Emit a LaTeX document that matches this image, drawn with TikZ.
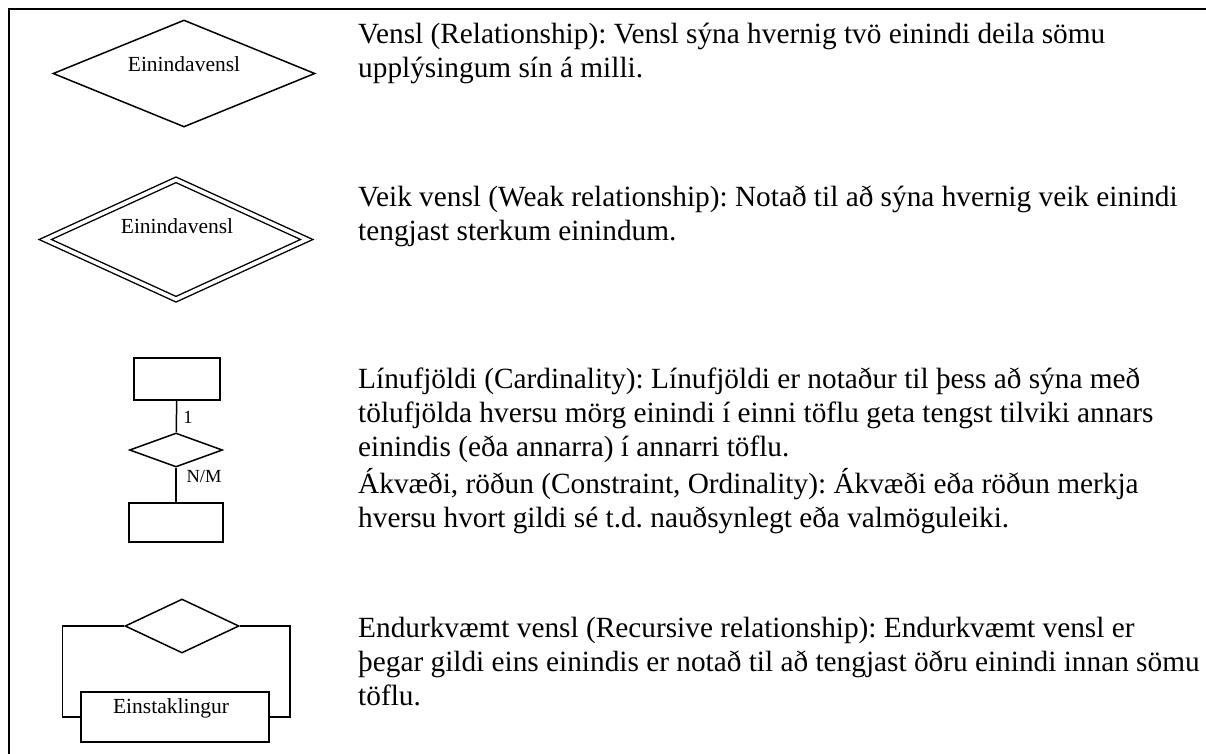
\documentclass[tikz,border=0pt]{standalone}
\usepackage{fontspec}
\setmainfont[Ligatures=CommonOff]{Liberation Serif}
\usetikzlibrary{shapes.geometric}
\frenchspacing

\tikzstyle{relation} = [diamond, draw, line width=1.5pt, inner sep=0pt]
\tikzstyle{weakrel} = [diamond, draw, double, line width=1.4pt, double distance=3.6pt, inner sep=0pt]
\tikzstyle{entity} = [rectangle, draw, line width=1.5pt, inner sep=0pt]
\tikzstyle{conn} = [line width=1.5pt]
\tikzstyle{frame} = [line width=2.5pt]
% base anchor of a multi-line node sits on its last line
\tikzstyle{desc} = [anchor=base west, align=left, inner sep=0pt, font=\fontsize{29.3}{33.6}\selectfont]
\tikzstyle{small} = [inner sep=0pt, font=\fontsize{21.5}{24}\selectfont]
\tikzstyle{card} = [inner sep=0pt, font=\fontsize{18.5}{20}\selectfont]

\begin{document}
\begin{tikzpicture}[x=1pt,y=-1pt]
      \useasboundingbox (0,0) rectangle (1206,753);
      \draw[frame] (9,760) -- (9,9) -- (1210,9);

      % vensl
      \node[relation, minimum width=262pt, minimum height=107pt] (rel) at (184,73.5) {};
      \node[small] (reltxt) at (184,64) {Einindavensl};

      % veik vensl
      \node[weakrel, minimum width=262pt, minimum height=120pt] (weak) at (176,239.5) {};
      \node[small] (weaktxt) at (177,226) {Einindavensl};

      % linufjoldi
      \node[entity, minimum width=86pt, minimum height=42pt] (ent1) at (177,379) {};
      \node[relation, minimum width=93pt, minimum height=34pt] (card) at (176,450) {};
      \node[entity, minimum width=94pt, minimum height=39pt] (ent2) at (176,522.5) {};
      \draw[conn] (ent1) -- (card);
      \draw[conn] (card) -- (ent2);
      \node[card] (one) at (188,417) {1};
      \node[card] (nm) at (204,476) {N/M};

      % endurkvaemt vensl
      \node[relation, minimum width=114pt, minimum height=54pt] (rec) at (182,626) {};
      \node[entity, minimum width=188pt, minimum height=50pt] (person) at (175,717) {};
      \node[small] (persontxt) at (171,708) {Einstaklingur};
      \draw[conn] (rec.west) -- ++(-62,0) |- (person.west);
      \draw[conn] (rec.east) -- ++(50,0) |- (person.east);

      % skyringar
      \node[desc] (vensl) at (358,77.5) {Vensl (Relationship): Vensl sýna hvernig tvö einindi deila sömu\\upplýsingum sín á milli.};
      \node[desc] (veik) at (358,240.5) {Veik vensl (Weak relationship): Notað til að sýna hvernig veik einindi\\tengjast sterkum einindum.};
      \node[desc] (linu) at (358,456) {Línufjöldi (Cardinality): Línufjöldi er notaður til þess að sýna með\\tölufjölda hversu mörg einindi í einni töflu geta tengst tilviki annars\\einindis (eða annarra) í annarri töflu.};
      \node[desc] (akv) at (358,527.5) {Ákvæði, röðun (Constraint, Ordinality): Ákvæði eða röðun merkja\\hversu hvort gildi sé t.d. nauðsynlegt eða valmöguleiki.};
      \node[desc] (endur) at (358,705) {Endurkvæmt vensl (Recursive relationship): Endurkvæmt vensl er\\þegar gildi eins einindis er notað til að tengjast öðru einindi innan sömu\\töflu.};
    \end{tikzpicture}
\end{document}
